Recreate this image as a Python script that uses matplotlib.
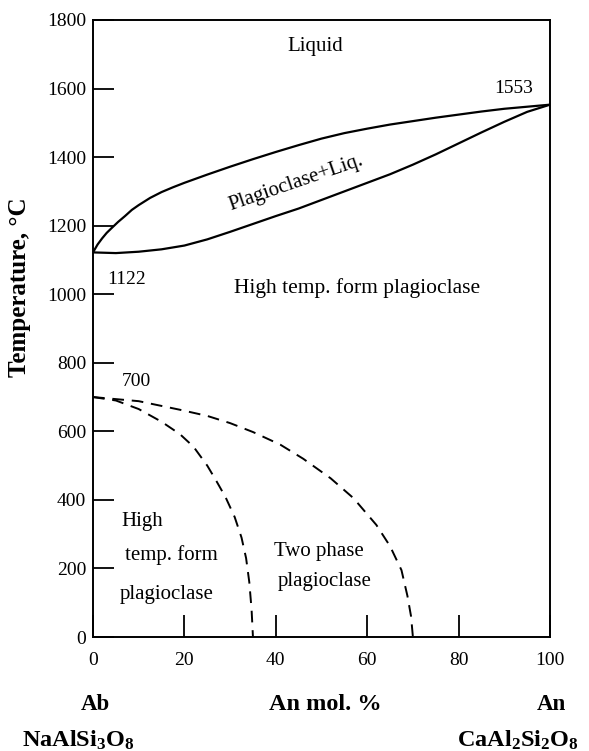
import matplotlib
matplotlib.use("Agg")
import matplotlib.pyplot as plt

plt.rcParams['font.family'] = ['Liberation Serif', 'DejaVu Serif']
plt.rcParams['mathtext.fontset'] = 'custom'
plt.rcParams['mathtext.rm'] = 'Liberation Serif:bold'
plt.rcParams['mathtext.it'] = 'Liberation Serif:bold'
plt.rcParams['mathtext.bf'] = 'Liberation Serif:bold'

# Phase boundaries, Ab-An system (An mol. %, temperature in deg C)
liquidus_x = [0, 1, 2, 3, 4, 5.5, 7, 8.5, 10, 12.5, 15, 17.5, 20, 25, 30, 35, 40, 45, 50, 55, 60, 65,
              70, 75, 80, 85, 90, 95, 100]
liquidus_t = [1122, 1145, 1163, 1179, 1192, 1211, 1228, 1246, 1260, 1281, 1298, 1312, 1325, 1349,
              1372, 1394, 1415, 1435, 1454, 1470, 1483, 1495, 1505, 1515, 1524, 1533, 1541, 1547, 1553]

solidus_x = [0, 5, 10, 15, 20, 25, 30, 35, 40, 45, 50, 55, 60, 65, 70, 75, 80, 85, 90, 95, 100]
solidus_t = [1122, 1120, 1124, 1131, 1142, 1160, 1182, 1205, 1228, 1250, 1275, 1300, 1325, 1350,
             1378, 1408, 1440, 1472, 1503, 1532, 1553]

# Subsolidus boundaries (dashed)
inner_x = [0, 5, 10, 15, 19, 22, 25, 27, 29, 31, 32.5, 33.5, 34.2, 34.7, 35]
inner_t = [700, 690, 665, 628, 592, 555, 500, 455, 408, 350, 290, 230, 160, 80, 0]

outer_x = [0, 10, 19, 25, 30, 35, 41, 46, 52, 57, 62, 65, 67.5, 68.8, 69.6, 70]
outer_t = [700, 688, 663, 645, 624, 598, 561, 520, 463, 405, 327, 265, 195, 120, 60, 0]

x_ticks = [0, 20, 40, 60, 80, 100]
y_ticks = [0, 200, 400, 600, 800, 1000, 1200, 1400, 1600, 1800]

fig = plt.figure(figsize=(5.89, 7.51), dpi=100)
ax = fig.add_axes([93 / 589, 1 - 637 / 751, 457 / 589, 617 / 751])

ax.plot(liquidus_x, liquidus_t, color='black', lw=1.6, solid_joinstyle='round')
ax.plot(solidus_x, solidus_t, color='black', lw=1.6, solid_joinstyle='round')
ax.plot(inner_x, inner_t, color='black', lw=1.4, linestyle=(0, (6, 4)))
ax.plot(outer_x, outer_t, color='black', lw=1.4, linestyle=(0, (6, 4)))

ax.set_xlim(0, 100)
ax.set_ylim(0, 1800)
ax.set_xticks(x_ticks)
ax.set_yticks(y_ticks)
ax.set_xticklabels([str(v) for v in x_ticks])
ax.set_yticklabels([str(v) for v in y_ticks])
ax.tick_params(axis='x', direction='in', length=16, width=1.3, pad=11, labelsize=14)
ax.tick_params(axis='y', direction='in', length=15, width=1.3, pad=5, labelsize=14)
for s in ax.spines.values():
    s.set_linewidth(1.4)

# Region and point labels
ax.text(48.6, 1722, 'Liquid', ha='center', va='center', fontsize=15)
ax.text(92, 1600, '1553', ha='center', va='center', fontsize=14)
ax.text(44.5, 1325, 'Plagioclase+Liq.', ha='center', va='center', fontsize=15, rotation=19)
ax.text(3.2, 1044, '1122', ha='left', va='center', fontsize=14)
ax.text(57.8, 1017, 'High temp. form plagioclase', ha='center', va='center', fontsize=15.5)
ax.text(9.4, 745, '700', ha='center', va='center', fontsize=14)
ax.text(10.8, 336, 'High', ha='center', va='center', fontsize=15)
ax.text(17.1, 240, 'temp. form', ha='center', va='center', fontsize=15)
ax.text(16.2, 123, 'plagioclase', ha='center', va='center', fontsize=15)
ax.text(49.4, 248, 'Two phase', ha='center', va='center', fontsize=15)
ax.text(50.8, 161, 'plagioclase', ha='center', va='center', fontsize=15)

# Axis titles and end-member labels
fig.text(20 / 589, 1 - 287 / 751, 'Temperature, °C', rotation=90, ha='center', va='center',
         fontsize=18, fontweight='bold')
fig.text(95 / 589, 1 - 705 / 751, 'Ab', ha='center', va='center', fontsize=16.5, fontweight='bold')
fig.text(325 / 589, 1 - 705 / 751, 'An mol. %', ha='center', va='center', fontsize=17.5,
         fontweight='bold')
fig.text(551 / 589, 1 - 705 / 751, 'An', ha='center', va='center', fontsize=16.5, fontweight='bold')
fig.text(78 / 589, 1 - 740 / 751, r'NaAlSi$_3$O$_8$', ha='center', va='center', fontsize=17.5,
         fontweight='bold')
fig.text(518 / 589, 1 - 740 / 751, r'CaAl$_2$Si$_2$O$_8$', ha='center', va='center', fontsize=17.5,
         fontweight='bold')

fig.savefig('out.png', dpi=100)
